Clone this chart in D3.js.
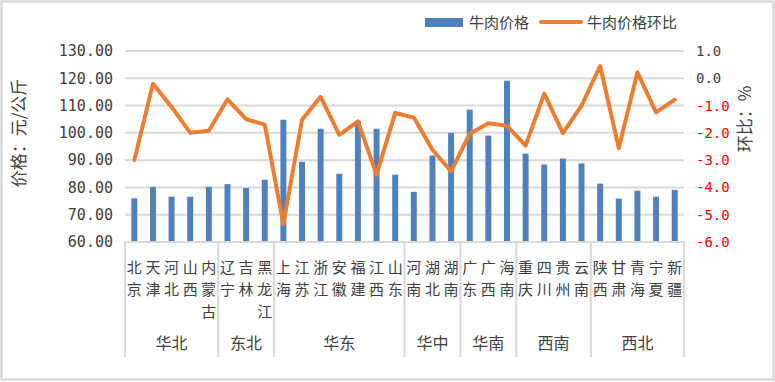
<!DOCTYPE html>
<html><head><meta charset="utf-8">
<script src="https://cdn.jsdelivr.net/npm/d3@7/dist/d3.min.js"></script>
<style>
html,body{margin:0;padding:0;background:#fff;}
svg{display:block;}
</style></head>
<body>
<svg id="chart" width="775" height="382"></svg>
<script>
const provinces = ["北京","天津","河北","山西","内蒙古","辽宁","吉林","黑龙江","上海","江苏","浙江","安徽","福建","江西","山东","河南","湖北","湖南","广东","广西","海南","重庆","四川","贵州","云南","陕西","甘肃","青海","宁夏","新疆"];
const regionNames = ["华北","东北","华东","华中","华南","西南","西北"];
const regionSizes = [5,3,7,3,3,4,5];
const prices = [76.0,80.2,76.6,76.6,80.2,81.2,79.8,82.8,104.8,89.4,101.5,85.0,104.4,101.5,84.7,78.4,91.7,100.0,108.5,99.0,119.1,92.4,88.4,90.6,88.8,81.4,75.9,78.8,76.6,79.1];
const mom = [-3.0,-0.2,-1.05,-2.0,-1.92,-0.77,-1.5,-1.7,-5.35,-1.52,-0.68,-2.07,-1.58,-3.53,-1.27,-1.44,-2.62,-3.41,-2.03,-1.65,-1.74,-2.47,-0.56,-2.01,-1.0,0.45,-2.56,0.22,-1.25,-0.78];
const leftTicks = [60,70,80,90,100,110,120,130];
const rightTicks = [-6,-5,-4,-3,-2,-1,0,1];
const seriesNames = ["牛肉价格","牛肉价格环比"];

const svg = d3.select("#chart");
const W = 775, H = 382;
const plot = {left:125, right:684, top:51, bottom:242};
const cjk = "'Noto Sans CJK SC','Noto Sans',sans-serif";
const num = "'DejaVu Sans Mono',monospace";

// border
svg.append("rect").attr("x",1.5).attr("y",1.5).attr("width",W-3).attr("height",H-4)
  .attr("fill","#fff").attr("stroke","#D9D9D9").attr("stroke-width",2.5);

const x = d3.scaleBand().domain(provinces).range([plot.left, plot.right]).padding(0);
const yL = d3.scaleLinear().domain([60,130]).range([plot.bottom, plot.top]);
const yR = d3.scaleLinear().domain([-6,1]).range([plot.bottom, plot.top]);

// gridlines
svg.append("g").selectAll("line").data(leftTicks.filter(t=>t>60)).join("line")
  .attr("x1",plot.left).attr("x2",plot.right)
  .attr("y1",d=>yL(d)).attr("y2",d=>yL(d))
  .attr("stroke","#D9D9D9").attr("stroke-width",2);

// left axis labels
const gL = svg.append("g").attr("transform",`translate(${plot.left},0)`)
  .call(d3.axisLeft(yL).tickValues(leftTicks).tickSize(0).tickPadding(12).tickFormat(d=>d3.format(".2f")(d)));
gL.select(".domain").remove();
gL.selectAll("text").attr("font-family",num).attr("font-size",15).attr("fill","#404040");

// right axis labels
const gR = svg.append("g").attr("transform",`translate(${plot.right},0)`)
  .call(d3.axisRight(yR).tickValues(rightTicks).tickSize(0).tickPadding(12).tickFormat(d=>d3.format(".1f")(d).replace("−","-")));
gR.select(".domain").remove();
gR.selectAll("text").attr("font-family",num).attr("font-size",14)
  .attr("fill",d=>d<0?"#FF0000":"#404040");

// bars
const bw = x.bandwidth()*0.32;
svg.append("g").selectAll("rect").data(provinces).join("rect")
  .attr("x",(d)=>x(d)+x.bandwidth()/2-bw/2)
  .attr("width",bw)
  .attr("y",(d,i)=>yL(prices[i]))
  .attr("height",(d,i)=>yL(60)-yL(prices[i]))
  .attr("fill","#4F81BD");

// bottom axis line
svg.append("line").attr("x1",plot.left).attr("x2",plot.right)
  .attr("y1",plot.bottom).attr("y2",plot.bottom)
  .attr("stroke","#D9D9D9").attr("stroke-width",2);

// line series
const line = d3.line().x((d,i)=>x(provinces[i])+x.bandwidth()/2).y(d=>yR(d));
svg.append("path").datum(mom).attr("d",line).attr("fill","none")
  .attr("stroke","#ED7D31").attr("stroke-width",4).attr("stroke-linejoin","round").attr("stroke-linecap","round");

// group separators
let cum = [0];
regionSizes.forEach(s=>cum.push(cum[cum.length-1]+s));
const bx = i => i>=provinces.length ? plot.right : x(provinces[i]);
svg.append("g").selectAll("line").data(cum).join("line")
  .attr("x1",d=>bx(d)).attr("x2",d=>bx(d))
  .attr("y1",plot.bottom).attr("y2",357)
  .attr("stroke","#D9D9D9").attr("stroke-width",2);

// province labels (vertical char stacks)
const lineYs = [267.5,289.5,311.5];
const pg = svg.append("g").attr("font-family",cjk).attr("font-size",15).attr("fill","#404040").attr("text-anchor","middle");
provinces.forEach(p=>{
  const cx = x(p)+x.bandwidth()/2;
  Array.from(p).forEach((c,j)=>{
    pg.append("text").attr("x",cx).attr("y",lineYs[j]).attr("dy","0.36em").text(c);
  });
});

// region labels
svg.append("g").selectAll("text").data(regionNames).join("text")
  .attr("x",(d,i)=>(bx(cum[i])+bx(cum[i+1]))/2)
  .attr("y",343.5).attr("dy","0.36em")
  .attr("text-anchor","middle").attr("font-family",cjk).attr("font-size",16).attr("fill","#404040")
  .text(d=>d);

// axis titles
svg.append("text").attr("transform","translate(19,133) rotate(-90)")
  .attr("text-anchor","middle").attr("dy","0.36em").attr("font-family",cjk).attr("font-size",17).attr("fill","#404040")
  .text("价格：元/公斤");
svg.append("text").attr("transform","translate(745,119) rotate(-90)")
  .attr("text-anchor","middle").attr("dy","0.36em").attr("font-family",cjk).attr("font-size",17).attr("fill","#404040")
  .text("环比：%");

// legend
const lg = svg.append("g");
lg.append("rect").attr("x",425).attr("y",18).attr("width",38).attr("height",9).attr("fill","#4F81BD");
lg.append("text").attr("x",469).attr("y",22.5).attr("dy","0.36em").attr("font-family",cjk).attr("font-size",15).attr("fill","#404040").text(seriesNames[0]);
lg.append("line").attr("x1",541).attr("x2",581).attr("y1",22).attr("y2",22).attr("stroke","#ED7D31").attr("stroke-width",4).attr("stroke-linecap","round");
lg.append("text").attr("x",587).attr("y",22.5).attr("dy","0.36em").attr("font-family",cjk).attr("font-size",15).attr("fill","#404040").text(seriesNames[1]);
</script>
</body></html>
